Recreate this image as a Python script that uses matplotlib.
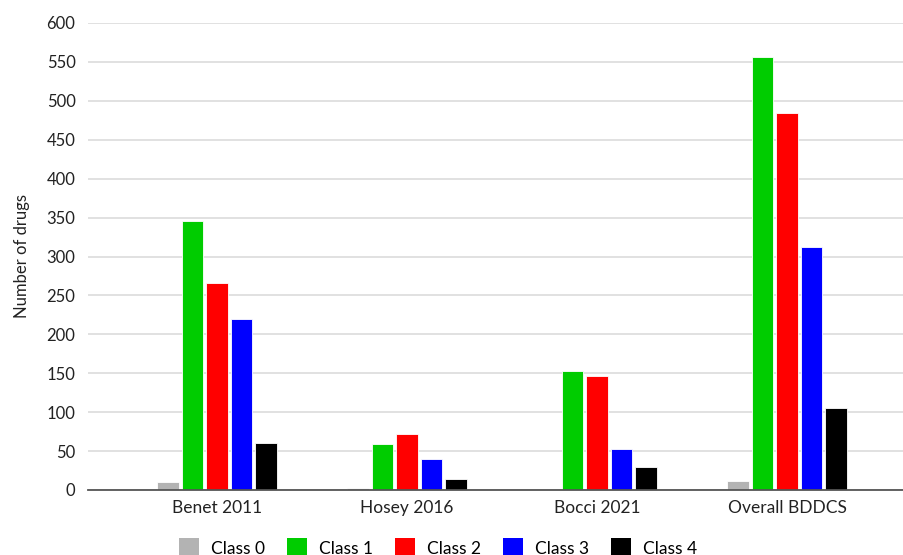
import numpy as np
import matplotlib.pyplot as plt
from matplotlib.patches import Patch

plt.rcParams['font.family'] = ['Lato', 'DejaVu Sans']

# data
studies = ['Benet 2011', 'Hosey 2016', 'Bocci 2021', 'Overall BDDCS']
classes = ['Class 0', 'Class 1', 'Class 2', 'Class 3', 'Class 4']
class0 = [10, 2, 0, 12]
class1 = [346, 59, 153, 556]
class2 = [266, 72, 146, 484]
class3 = [220, 40, 53, 312]
class4 = [60, 14, 30, 105]
colors = ['#b3b3b3', '#00cc00', '#ff0000', '#0000ff', '#000000']

series = [class0, class1, class2, class3, class4]

fig = plt.figure(figsize=(9.04, 5.55), dpi=100)
ax = fig.add_axes([88/904, 1-490/555, 1-88/904, (490-23)/555])

x = np.arange(len(studies))
w = 0.112
pitch = 0.129
for i, (vals, c) in enumerate(zip(series, colors)):
    ax.bar(x + (i - 2) * pitch, vals, width=w, color=c, edgecolor='white',
           linewidth=0.6, zorder=3)

ax.set_xlim(-(217-88)/190, 3 + (904-787)/190)
ax.set_ylim(0, 600)
ax.set_yticks(np.arange(0, 601, 50))
ax.set_xticks(x)
ax.set_xticklabels(studies, fontsize=12.5, color='#222222')
ax.tick_params(axis='y', length=0, pad=9, labelsize=12, labelcolor='#222222')
ax.tick_params(axis='x', length=0, pad=7)
ax.grid(axis='y', color='#d9d9d9', linewidth=1.1, zorder=0)
ax.set_axisbelow(True)
for s in ['top', 'right', 'left']:
    ax.spines[s].set_visible(False)
ax.spines['bottom'].set_color('#555555')
ax.spines['bottom'].set_linewidth(1.3)
ax.spines['bottom'].set_zorder(4)

ax.set_ylabel('Number of drugs', fontsize=12, color='#222222', labelpad=12)

handles = [Patch(facecolor=c, edgecolor='none') for c in colors]
fig.legend(handles, classes, loc='center', bbox_to_anchor=(438/904, 1-548/555),
           ncol=5, frameon=False, fontsize=12.5, handlelength=1.15,
           handleheight=1.4, handletextpad=0.7, columnspacing=1.25,
           borderpad=0)

fig.savefig('out.png', dpi=100)
